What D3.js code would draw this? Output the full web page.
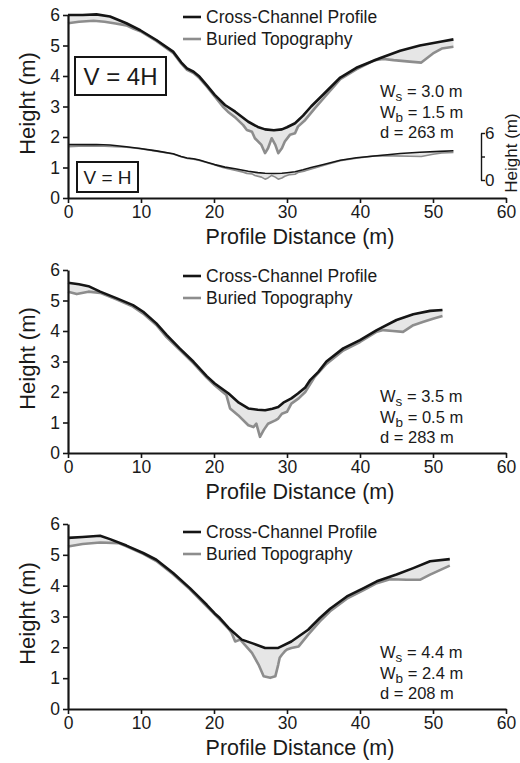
<!DOCTYPE html>
<html>
<head>
<meta charset="utf-8" />
<title>Cross-channel profiles</title>
<script src="https://d3js.org/d3.v7.min.js"></script>
<style>
  body { margin: 0; background: #fff; }
  text { font-family: "Liberation Sans", Arial, sans-serif; fill: #1a1a1a; }
</style>
</head>
<body>
<svg id="chart" width="520" height="763"></svg>
<script>
// ticks and labels
var xTicks = [0, 10, 20, 30, 40, 50, 60];
var yTicks = [0, 1, 2, 3, 4, 5, 6];
var legendLabels = ["Cross-Channel Profile", "Buried Topography"];
var xTitle = "Profile Distance (m)";
var yTitle = "Height (m)";

// panel 1 (d = 263 m)
var p1ProfileX = [0, 2, 3.9, 5.75, 8, 9.9, 12.1, 14.4, 15.5, 16.3, 17.2, 18, 19, 20.1, 21.5, 22.9, 24.7, 26, 27, 28.2, 29.3, 30, 31.1, 32.2, 33.3, 35, 37.3, 39.5, 42.7, 45.5, 48.2, 51, 52.8];
var p1ProfileY = [6.0, 6.0, 6.02, 5.95, 5.73, 5.5, 5.18, 4.8, 4.45, 4.25, 4.14, 3.98, 3.7, 3.38, 3.05, 2.83, 2.5, 2.33, 2.25, 2.22, 2.25, 2.32, 2.45, 2.7, 3.0, 3.4, 3.95, 4.27, 4.58, 4.83, 5.0, 5.12, 5.2];
var p1BuriedX = [0, 1.5, 3.5, 5, 6.5, 8, 9, 9.9, 12.1, 14.4, 15.5, 16.3, 17.2, 18, 19, 20.1, 21.2, 21.9, 23, 24, 24.5, 25.2, 25.6, 26.5, 27, 27.4, 27.9, 28.4, 28.8, 29.3, 29.7, 30.4, 31.1, 31.5, 32.5, 33.8, 35.2, 37.3, 39.5, 42, 43.2, 44.6, 46.8, 48.4, 50, 51.2, 52.8];
var p1BuriedY = [5.73, 5.78, 5.81, 5.78, 5.72, 5.66, 5.55, 5.47, 5.15, 4.76, 4.41, 4.2, 4.1, 3.93, 3.66, 3.33, 3.0, 2.83, 2.62, 2.39, 2.23, 2.17, 1.96, 1.74, 1.47, 1.63, 1.96, 1.74, 1.47, 1.63, 1.85, 2.07, 2.12, 2.34, 2.56, 2.94, 3.32, 3.9, 4.22, 4.52, 4.56, 4.52, 4.47, 4.44, 4.74, 4.9, 4.96];
var p1Stats = ["3.0", "1.5", "263"];

// panel 2 (d = 283 m)
var p2ProfileX = [0, 1.5, 2.8, 4.4, 6.7, 8.9, 10.3, 12.1, 13.5, 15.3, 17.2, 19, 20.1, 22, 23.4, 24.7, 26, 27, 28, 28.8, 29.5, 30.6, 31.5, 32.5, 33.2, 34.3, 35.4, 37.7, 40, 42.3, 45, 47.3, 49.6, 51.3];
var p2ProfileY = [5.58, 5.53, 5.47, 5.29, 5.07, 4.85, 4.63, 4.25, 3.87, 3.43, 2.99, 2.52, 2.28, 1.95, 1.65, 1.46, 1.42, 1.4, 1.45, 1.51, 1.65, 1.79, 1.95, 2.15, 2.4, 2.66, 3.0, 3.43, 3.7, 4.03, 4.36, 4.55, 4.66, 4.69];
var p2BuriedX = [0, 1.2, 2.8, 4.4, 6.7, 8.9, 10.3, 12.1, 13.5, 15.3, 17.2, 19, 20.1, 21.2, 21.7, 22.2, 23.3, 24.7, 25.4, 25.8, 26.3, 26.8, 27.4, 28.4, 28.8, 29.3, 30, 30.6, 31.6, 32.5, 33.8, 35.4, 37.7, 40, 42.3, 43.2, 44.5, 45.9, 47.3, 48.7, 50, 51.3];
var p2BuriedY = [5.29, 5.21, 5.29, 5.25, 5.03, 4.8, 4.57, 4.2, 3.8, 3.38, 2.94, 2.47, 2.22, 2.0, 1.9, 1.46, 1.24, 0.91, 0.85, 0.96, 0.53, 0.75, 0.96, 1.07, 1.13, 1.29, 1.35, 1.62, 1.79, 2.0, 2.5, 2.92, 3.36, 3.64, 3.98, 4.03, 4.0, 3.97, 4.19, 4.3, 4.4, 4.49];
var p2Stats = ["3.5", "0.5", "283"];

// panel 3 (d = 208 m)
var p3ProfileX = [0, 2, 4.4, 5.75, 8, 10.3, 12.1, 14.4, 16.7, 19, 20.1, 20.8, 22, 23.8, 25.4, 27, 28.8, 30.6, 32.9, 34.5, 35.9, 38.2, 40.5, 42.3, 45, 47.3, 49.6, 52.3];
var p3ProfileY = [5.55, 5.58, 5.62, 5.51, 5.3, 5.06, 4.84, 4.41, 3.92, 3.38, 3.1, 2.95, 2.63, 2.25, 2.12, 1.98, 1.98, 2.19, 2.57, 2.95, 3.25, 3.65, 3.92, 4.14, 4.36, 4.57, 4.79, 4.86];
var p3BuriedX = [0, 2, 4.4, 6.9, 8, 10.3, 12.1, 14.4, 16.7, 19, 20.8, 22, 22.4, 22.9, 23.6, 24.2, 25.2, 26.1, 26.8, 27.7, 28.4, 28.8, 29, 29.3, 29.7, 30, 30.6, 31.6, 32.9, 34.5, 35.9, 38.2, 40.5, 42.3, 44.1, 46.4, 48.2, 49.6, 52.3];
var p3BuriedY = [5.27, 5.35, 5.4, 5.38, 5.28, 5.03, 4.8, 4.37, 3.88, 3.33, 2.9, 2.6, 2.47, 2.19, 2.25, 2.09, 1.82, 1.44, 1.06, 1.01, 1.06, 1.44, 1.66, 1.76, 1.87, 1.93, 1.98, 2.03, 2.41, 2.84, 3.17, 3.58, 3.86, 4.08, 4.21, 4.19, 4.19, 4.36, 4.65];
var p3Stats = ["4.4", "2.4", "208"];

// the V = H copy of panel 1 sits at a quarter of the height, lifted by this much
var vhLift = 0.25;

function zip(xs, ys) {
    return xs.map(function (d, i) { return [d, ys[i]]; });
}

var panels = [
    { top: 15, bottom: 198, legendDy: 2, profile: zip(p1ProfileX, p1ProfileY), buried: zip(p1BuriedX, p1BuriedY), stats: p1Stats, statY: 91, inset: true },
    { top: 270, bottom: 453, legendDy: 6, profile: zip(p2ProfileX, p2ProfileY), buried: zip(p2BuriedX, p2BuriedY), stats: p2Stats, statY: 396 },
    { top: 524, bottom: 709, legendDy: 8, profile: zip(p3ProfileX, p3ProfileY), buried: zip(p3BuriedX, p3BuriedY), stats: p3Stats, statY: 652 }
];

var svg = d3.select("#chart");
var left = 68, right = 506;
var black = "#151515", grey = "#8d8d8d", fill = "#e6e6e6";
var fmt = d3.format("d");

var x = d3.scaleLinear().domain([0, 60]).range([left, right]);

function drawProfiles(g, yScale, profile, buried, width) {
    var line = d3.line()
        .x(function (d) { return x(d[0]); })
        .y(function (d) { return yScale(d[1]); });

    // shaded gap between surface and buried topography
    var ring = profile.concat(buried.slice().reverse());
    g.append("path")
        .attr("d", line(ring) + "Z")
        .attr("fill", fill)
        .attr("stroke", "none");

    g.append("path")
        .attr("d", line(buried))
        .attr("fill", "none")
        .attr("stroke", grey)
        .attr("stroke-width", width)
        .attr("stroke-linejoin", "round");

    g.append("path")
        .attr("d", line(profile))
        .attr("fill", "none")
        .attr("stroke", black)
        .attr("stroke-width", width)
        .attr("stroke-linejoin", "round");
}

panels.forEach(function (p) {
    var g = svg.append("g");
    var y = d3.scaleLinear().domain([0, 6]).range([p.bottom, p.top]);

    drawProfiles(g, y, p.profile, p.buried, 2.6);

    if (p.inset) {
        var yVH = d3.scaleLinear().domain([0, 6]).range([y(vhLift), y(vhLift + 1.5)]);
        drawProfiles(g, yVH, p.profile, p.buried, 1.6);
    }

    // axes
    var xAxis = g.append("g")
        .attr("transform", "translate(0," + p.bottom + ")")
        .call(d3.axisBottom(x).tickValues(xTicks).tickFormat(fmt).tickSize(5).tickSizeOuter(0));
    var yAxis = g.append("g")
        .attr("transform", "translate(" + left + ",0)")
        .call(d3.axisLeft(y).tickValues(yTicks).tickFormat(fmt).tickSize(5).tickSizeOuter(0));

    [xAxis, yAxis].forEach(function (a) {
        a.select(".domain").attr("stroke", black).attr("stroke-width", 2.2);
        a.selectAll(".tick line").attr("stroke", black).attr("stroke-width", 1.6);
        a.selectAll(".tick text")
            .style("font-family", "'Liberation Sans', Arial, sans-serif")
            .style("font-size", "17.5px")
            .attr("fill", "#1a1a1a");
    });

    g.append("text")
        .attr("x", 300)
        .attr("y", p.bottom + 39)
        .attr("text-anchor", "middle")
        .attr("dominant-baseline", "central")
        .style("font-size", "21.5px")
        .text(xTitle);

    g.append("text")
        .attr("transform", "translate(27," + ((p.top + p.bottom) / 2 - 3) + ") rotate(-90)")
        .attr("text-anchor", "middle")
        .attr("dominant-baseline", "central")
        .style("font-size", "22px")
        .text(yTitle);

    // legend
    legendLabels.forEach(function (lab, i) {
        var ly = p.top + p.legendDy + i * 22;
        g.append("line")
            .attr("x1", 183).attr("x2", 201)
            .attr("y1", ly).attr("y2", ly)
            .attr("stroke", i === 0 ? black : grey)
            .attr("stroke-width", 2.6);
        g.append("text")
            .attr("x", 206)
            .attr("y", ly)
            .attr("dominant-baseline", "central")
            .style("font-size", "17.5px")
            .text(lab);
    });

    // widths and distance
    var statLines = [["W", "s", " = " + p.stats[0] + " m"], ["W", "b", " = " + p.stats[1] + " m"], ["d", "", " = " + p.stats[2] + " m"]];
    statLines.forEach(function (s, i) {
        var t = g.append("text")
            .attr("x", 380)
            .attr("y", p.statY + i * 20.7 + 6)
            .style("font-size", "16.5px");
        t.append("tspan").text(s[0]);
        if (s[1]) {
            t.append("tspan").attr("dy", 4).style("font-size", "13.5px").text(s[1]);
            t.append("tspan").attr("dy", -4).text(s[2]);
        } else {
            t.append("tspan").text(s[2]);
        }
    });

    if (p.inset) {
        // exaggeration boxes
        g.append("rect")
            .attr("x", 75).attr("y", 57).attr("width", 91).attr("height", 38)
            .attr("fill", "#fff").attr("stroke", black).attr("stroke-width", 2);
        g.append("text")
            .attr("x", 120.5).attr("y", 76.5)
            .attr("text-anchor", "middle").attr("dominant-baseline", "central")
            .style("font-size", "24px")
            .text("V = 4H");
        g.append("rect")
            .attr("x", 77).attr("y", 162).attr("width", 61).attr("height", 30)
            .attr("fill", "#fff").attr("stroke", black).attr("stroke-width", 2);
        g.append("text")
            .attr("x", 107.5).attr("y", 177.5)
            .attr("text-anchor", "middle").attr("dominant-baseline", "central")
            .style("font-size", "19px")
            .text("V = H");

        // height scale bar for the V = H profile
        var yBar = d3.scaleLinear().domain([0, 6]).range([180, 133]);
        var bar = g.append("g")
            .attr("transform", "translate(481,0)")
            .call(d3.axisRight(yBar).tickValues([0, 3, 6]).tickSize(4).tickSizeOuter(0)
                .tickFormat(function (d) { return d === 3 ? "" : fmt(d); }));
        bar.select(".domain").attr("stroke", black).attr("stroke-width", 1.4);
        bar.selectAll(".tick line").attr("stroke", black).attr("stroke-width", 1.4);
        bar.selectAll(".tick text")
            .attr("x", 4)
            .style("font-family", "'Liberation Sans', Arial, sans-serif")
            .style("font-size", "17px")
            .attr("fill", "#1a1a1a");
        g.append("text")
            .attr("transform", "translate(511,153) rotate(-90)")
            .attr("text-anchor", "middle")
            .attr("dominant-baseline", "central")
            .style("font-size", "17px")
            .text(yTitle);
    }
});
</script>
</body>
</html>
